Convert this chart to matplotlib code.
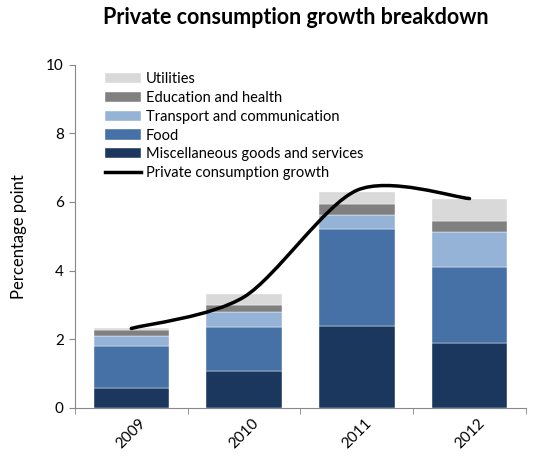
import numpy as np
import matplotlib.pyplot as plt
from matplotlib.path import Path
from matplotlib.patches import PathPatch
from matplotlib.lines import Line2D

plt.rcParams['font.family'] = ['Lato', 'DejaVu Sans']

# --- Data ---
years = ['2009', '2010', '2011', '2012']
misc = [0.57, 1.07, 2.37, 1.89]          # Miscellaneous goods and services
food = [1.23, 1.29, 2.85, 2.22]
transport = [0.30, 0.42, 0.39, 1.00]
education = [0.16, 0.21, 0.34, 0.33]
utilities = [0.06, 0.34, 0.33, 0.65]
growth = [2.31, 3.23, 6.34, 6.10]        # Private consumption growth

series = [
    ('Miscellaneous goods and services', misc, '#1b375e'),
    ('Food', food, '#4571a6'),
    ('Transport and communication', transport, '#95b3d7'),
    ('Education and health', education, '#808080'),
    ('Utilities', utilities, '#d9d9d9'),
]

fig = plt.figure(figsize=(5.35, 4.57), dpi=100)
ax = fig.add_axes([0.140, 0.108, 0.843, 0.750])

x = np.arange(len(years))
bottom = np.zeros(len(years))
handles = []
for name, vals, col in series:
    b = ax.bar(x, vals, width=0.67, bottom=bottom, color=col, label=name,
               edgecolor='white', linewidth=0.3, zorder=2)
    bottom += np.array(vals)
    handles.append(b)

# smoothed line (bezier through the points, like a spreadsheet "smooth line")
pts = np.column_stack([x, growth]).astype(float)
verts = [tuple(pts[0])]
codes = [Path.MOVETO]
n = len(pts)
k = 7.0
for i in range(n - 1):
    p0 = pts[i - 1] if i > 0 else pts[i]
    p1, p2 = pts[i], pts[i + 1]
    p3 = pts[i + 2] if i + 2 < n else pts[i + 1]
    c1 = p1 + (p2 - p0) / k
    c2 = p2 - (p3 - p1) / k
    verts += [tuple(c1), tuple(c2), tuple(p2)]
    codes += [Path.CURVE4] * 3
ax.add_patch(PathPatch(Path(verts, codes), facecolor='none', edgecolor='black',
                       linewidth=2.5, capstyle='round', zorder=3))

ax.set_xlim(-0.5, 3.5)
ax.set_ylim(0, 10)
ax.set_yticks([0, 2, 4, 6, 8, 10])
ax.tick_params(axis='y', labelsize=11, length=4, color='#888888', pad=4)
ax.set_xticks(x)
ax.set_xticklabels(years, rotation=45, fontsize=11)
ax.tick_params(axis='x', length=0, pad=6)
ax.set_xticks([-0.5, 0.5, 1.5, 2.5, 3.5], minor=True)
ax.tick_params(axis='x', which='minor', length=4, color='#888888')
for s in ['top', 'right']:
    ax.spines[s].set_visible(False)
for s in ['left', 'bottom']:
    ax.spines[s].set_color('#888888')
ax.set_ylabel('Percentage point', fontsize=12, labelpad=14)

fig.suptitle('Private consumption growth breakdown', x=0.552, y=0.985,
             fontsize=15.5, fontweight='bold')

line_handle = Line2D([], [], color='black', linewidth=2.5)
leg_handles = handles[::-1] + [line_handle]
leg_labels = [s[0] for s in series][::-1] + ['Private consumption growth']
ax.legend(leg_handles, leg_labels, loc='upper left', bbox_to_anchor=(0.05, 1.0),
          frameon=False, fontsize=10.5, handlelength=2.5, handleheight=0.7,
          labelspacing=0.33, handletextpad=0.3, borderaxespad=0.1)

fig.savefig('out.png', dpi=100)
